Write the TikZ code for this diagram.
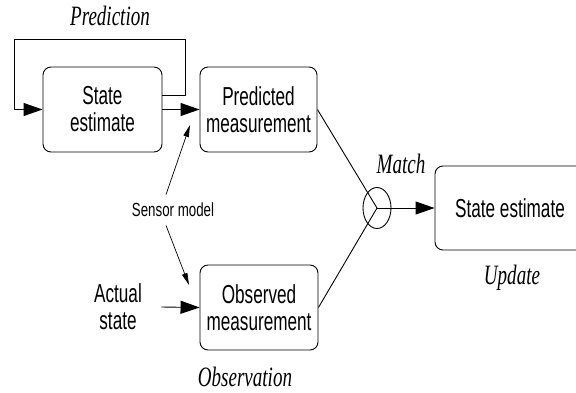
\documentclass[tikz,border=0pt]{standalone}
\usepackage{fontspec}
\usepackage{tikz}
\usetikzlibrary{arrows.meta,shapes.geometric}
\newfontfamily\boxfont[FakeStretch=0.66]{Liberation Sans}
\newfontfamily\smallfont[FakeStretch=0.7]{Liberation Sans}
\newfontfamily\labfont[FakeStretch=0.68]{Liberation Serif}

\begin{document}
\begin{tikzpicture}[x=1pt, y=-1pt, line width=0.9pt,
    box/.style={draw, rounded corners=8pt, align=center, inner sep=0pt,
        minimum height=85pt, font=\boxfont\fontsize{26}{27}\selectfont},
    txt/.style={align=center, inner sep=0pt, font=\boxfont\fontsize{26}{27}\selectfont},
    lab/.style={inner sep=0pt, font=\labfont\itshape\fontsize{28}{30}\selectfont},
    big/.style={-{Triangle[length=19pt,width=13pt]}},
    sm/.style={line width=0.7pt, -{Triangle[length=12pt,width=5.5pt]}}]
    \useasboundingbox (0,0) rectangle (576,392);
    % boxes
    \node[box, minimum width=119pt] (est) at (102.5,109.5) {State\\estimate};
    \node[box, minimum width=117pt] (pred) at (258.5,109.5) {Predicted\\measurement};
    \node[box, minimum width=118pt] (obs) at (259,307.5) {Observed\\measurement};
    \node[box, minimum width=150pt, minimum height=84pt] (upd) at (510,208) {State estimate};
    \node[draw, ellipse, minimum width=28pt, minimum height=41pt, inner sep=0pt] (match) at (377,208) {};
    \node[txt] (act) at (118,307) {Actual\\state};
    \node[txt, font=\smallfont\fontsize{19}{20}\selectfont] (sens) at (173,210) {Sensor model};
    % labels
    \node[lab] (lpred) at (110,16) {Prediction};
    \node[lab] (lmatch) at (401,164) {Match};
    \node[lab] (lupd) at (512,278) {Update};
    \node[lab] (lobs) at (245,377) {Observation};
    % connectors
    \draw[big] ([yshift=14.5pt]est.east) -- ++(23,0) |- (14,39) |- (est.west);
    \draw[big] (est) -- (pred);
    \draw[big] ([xshift=19pt]act.east) -- (obs.west);
    \draw (pred.east) -- (match.center) -- (obs.east);
    \draw[big] (match.center) -- (upd);
    \coordinate (ptop) at (190,125);
    \coordinate (pbot) at (189,285);
    \draw[sm] ([xshift=-7pt,yshift=8pt]sens.north) -- (ptop);
    \draw[sm] ([xshift=-7pt,yshift=-8pt]sens.south) -- (pbot);
\end{tikzpicture}
\end{document}
